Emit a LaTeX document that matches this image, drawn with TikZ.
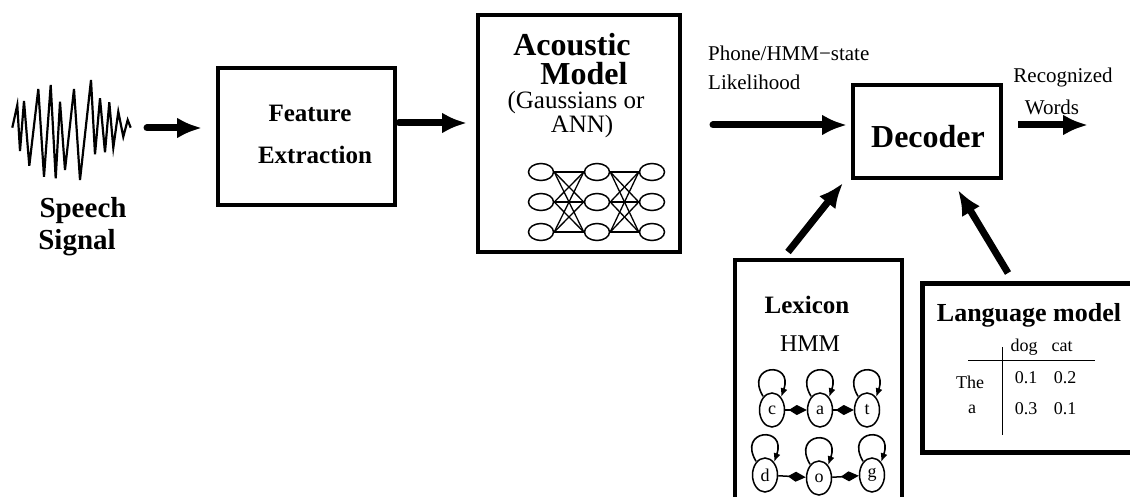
\documentclass[tikz,border=0pt]{standalone}
\usepackage{fontspec}
\setmainfont{Liberation Serif}
\usetikzlibrary{arrows.meta,calc,shapes.geometric}
\newcommand{\fsz}[1]{\fontsize{#1}{#1}\selectfont}
\begin{document}
\begin{tikzpicture}[x=1pt,y=-1pt,
  box/.style={draw,line width=4pt,inner sep=0pt,outer sep=0pt},
  txt/.style={inner sep=0pt,font=\fsz{#1},text height=#1*0.68pt,text depth=0pt},
  btxt/.style={inner sep=0pt,font=\bfseries\fsz{#1},text height=#1*0.68pt,text depth=0pt},
  bigarrow/.style={line width=7pt,-{Latex[length=25pt,width=21pt]}},
  neuron/.style={draw,ellipse,line width=1.5pt,minimum width=25pt,minimum height=17pt,inner sep=0pt},
  hstate/.style={draw,ellipse,line width=1.5pt,minimum width=25pt,minimum height=34pt,inner sep=0pt,font=\fsz{18}},
  link/.style={line width=1.3pt},
  trans/.style={line width=1.5pt,-{Kite[length=18pt,width=10pt,inset=8pt]}},
  selfloop/.style={line width=1.6pt,-{Latex[length=9pt,width=7pt]}},
]
\useasboundingbox (0,0) rectangle (1130,497);
\clip (0,0) rectangle (1130,497);
\fill[white] (0,0) rectangle (1130,497);

% speech waveform
\draw[line width=2.2pt,line join=miter] (12.3,127.7) -- (17.3,105) -- (20,151) -- (24,101) -- (29.3,165.7) -- (38.3,89) -- (44,176.7) -- (50.7,85) -- (55.7,178.3) -- (60,101.7) -- (65,170) -- (74,89) -- (80,180) -- (91,80) -- (95,154.3) -- (100,98.3) -- (105,152.3) -- (109.3,102.3) -- (113.3,147.7) -- (118.3,111.7) -- (123.3,136.7) -- (127.7,120) -- (130.7,127.7);
\coordinate (sigout) at (147,128);
\node[btxt=29] (sp1) at (83,208) {Speech};
\node[btxt=29] (sp2) at (77,240) {Signal};

% feature extraction
\node[box,minimum width=177pt,minimum height=137pt] (fe) at (306.5,136.5) {};
\node[btxt=25] (fet1) at (310,113) {Feature};
\node[btxt=25] (fet2) at (315,155) {Extraction};

% acoustic model
\node[box,minimum width=202pt,minimum height=237pt] (am) at (579,133.5) {};
\node[btxt=32] (amt1) at (572,45) {Acoustic};
\node[btxt=32] (amt2) at (584,74) {Model};
\node[txt=25] (amt3) at (576,100) {(Gaussians or};
\node[txt=25] (amt4) at (582,124) {ANN)};
\foreach \c/\x in {1/541,2/597,3/652}{
  \foreach \r/\y in {1/172,2/202,3/232}{
    \node[neuron] (n\c\r) at (\x,\y) {};
  }
}
\foreach \i in {1,2,3}{
  \foreach \j in {1,2,3}{
    \draw[link] (n1\i.east) -- (n2\j.west);
    \draw[link] (n2\i.east) -- (n3\j.west);
  }
}

% decoder
\node[box,minimum width=148pt,minimum height=93pt] (dec) at (927,131.5) {};
\node[btxt=32] (dect) at (928,137) {Decoder};
\node[txt=21,anchor=west] (ph1) at (708,53) {Phone/HMM−state};
\node[txt=21,anchor=west] (ph2) at (708,82) {Likelihood};
\node[txt=21] (rw1) at (1063,75) {Recognized};
\node[txt=21] (rw2) at (1052,107) {Words};
\coordinate (outend) at (1088,125);

% main arrows
\draw[bigarrow,line cap=round] (sigout) -- ($(fe.west)+(-16,-8.5)$);
\draw[bigarrow,line cap=round] ($(fe.east)+(4,-13.5)$) -- ($(am.west)+(-11,-10.5)$);
\draw[bigarrow,line cap=round] ($(am.east)+(33,-8.5)$) -- ($(dec.west)+(-6,-6.5)$);
\draw[bigarrow] ($(dec.east)+(17,-6.5)$) -- (outend);

% lexicon
\node[box,minimum width=167pt,minimum height=270pt] (lex) at (818.5,395) {};
\node[btxt=25] (lext1) at (807,305) {Lexicon};
\node[txt=24] (lext2) at (810,343) {HMM};
\node[hstate] (sc) at (772,410) {c};
\node[hstate] (sa) at (820,410) {a};
\node[hstate] (st) at (867,410) {t};
\node[hstate] (sd) at (765,475) {d};
\node[hstate] (so) at (819,478) {o};
\node[hstate] (sg) at (872,475) {g};
\draw[trans] (sc) -- (sa);
\draw[trans] (sa) -- (st);
\draw[trans] (sd) -- (so);
\draw[trans] (so) -- (sg);
\foreach \s in {sc,sa,st,sd,so,sg}{
  \draw[selfloop] ($(\s.north)+(-9,4)$) .. controls ($(\s.north)+(-28,-28)$) and ($(\s.north)+(22,-32)$) .. ($(\s.north)+(9,5)$);
}

% language model
\node[box,line width=5pt,minimum width=230pt,minimum height=169pt] (lang) at (1037,367.5) {};
\node[btxt=26] (langt) at (1029,313) {Language model};
\draw[line width=1pt] (1002,347) -- (1002,435);
\draw[line width=1pt] (968,360) -- (1095,360);
\node[txt=18] (tdog) at (1024,345) {dog};
\node[txt=18] (tcat) at (1062,345) {cat};
\node[txt=18] (tthe) at (970,382) {The};
\node[txt=18] (ta) at (972,407) {a};
\node[txt=18] (v11) at (1026,377) {0.1};
\node[txt=18] (v12) at (1065,377) {0.2};
\node[txt=18] (v21) at (1026,408) {0.3};
\node[txt=18] (v22) at (1065,408) {0.1};

% arrows to decoder
\draw[bigarrow] ($(lex.north west)+(53,-8)$) -- ($(dec.south west)+(-10,5)$);
\draw[bigarrow] ($(lang.north west)+(86,-10)$) -- ($(dec.south west)+(105,12)$);
\end{tikzpicture}
\end{document}
